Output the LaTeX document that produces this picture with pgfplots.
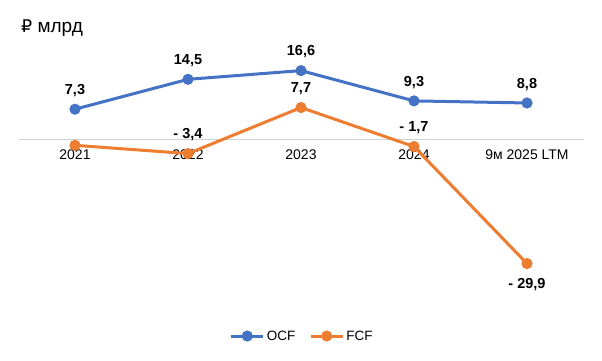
\documentclass[border=0pt]{standalone}
\usepackage{pgfplots}
\pgfplotsset{compat=1.18}
\usepackage{fontspec}
\setmainfont{Liberation Sans}
\newfontfamily\rubfont{DejaVu Sans}[Scale=0.92]
\definecolor{ocf}{HTML}{4472C4}
\definecolor{fcf}{HTML}{ED7D31}
\begin{document}
\begin{tikzpicture}
\useasboundingbox (0,0) rectangle (602pt,361pt);
\node[anchor=west, font=\fontsize{19}{21}\selectfont, inner sep=0pt] at (21pt,333pt) {{\rubfont ₽} млрд};
\begin{axis}[
 at={(18.5pt,76.25pt)}, anchor=south west,
 scale only axis, width=565pt, height=249pt,
 xmin=-0.5, xmax=4.5, ymin=-35, ymax=25,
 axis x line=middle, axis y line=none,
 x axis line style={draw=black!18, line width=0.8pt, -},
 xtick={0,...,4}, xticklabels={2021,2022,2023,2024,9м 2025 LTM},
 major tick length=0pt,
 xticklabel style={font=\fontsize{14}{16}\selectfont, yshift=-7pt, fill=none},
 ytick=\empty,
 clip=false,
 /pgf/number format/assume math mode=true,
 legend style={at={(0.502,-0.206)}, anchor=center, draw=none, fill=none, legend columns=2, font=\fontsize{13.5}{15}\selectfont, /tikz/every even column/.style={column sep=12pt}},
 legend image code/.code={\draw[mark repeat=2,mark phase=2] plot coordinates {(0pt,0pt) (16pt,0pt) (32pt,0pt)};},
 every node near coord/.append style={font=\bfseries\fontsize{14.5}{16}\selectfont, text=black, inner ysep=11pt},
]
\addplot[ocf, line width=3pt, mark=*, mark size=4pt, mark options={solid, fill=ocf},
  nodes near coords, point meta=explicit symbolic,
  nodes near coords style={anchor=south}]
  coordinates {(0,7.3)[7,3] (1,14.5)[14,5] (2,16.6)[16,6] (3,9.3)[9,3] (4,8.8)[8,8]};
\addlegendentry{OCF}
\addplot[fcf, line width=3pt, mark=*, mark size=4pt, mark options={solid, fill=fcf},
  nodes near coords, point meta=explicit symbolic,
  nodes near coords style={anchor=south}]
  coordinates {(0,-1.4)[] (1,-3.4)[- 3,4] (2,7.7)[7,7] (3,-1.7)[- 1,7] (4,-29.9)[]};
\addlegendentry{FCF}
\addplot[draw=none, mark=none, forget plot,
  nodes near coords, point meta=explicit symbolic,
  nodes near coords style={anchor=north, inner ysep=15pt}]
  coordinates {(4,-29.9)[- 29,9]};
\end{axis}
\end{tikzpicture}
\end{document}
